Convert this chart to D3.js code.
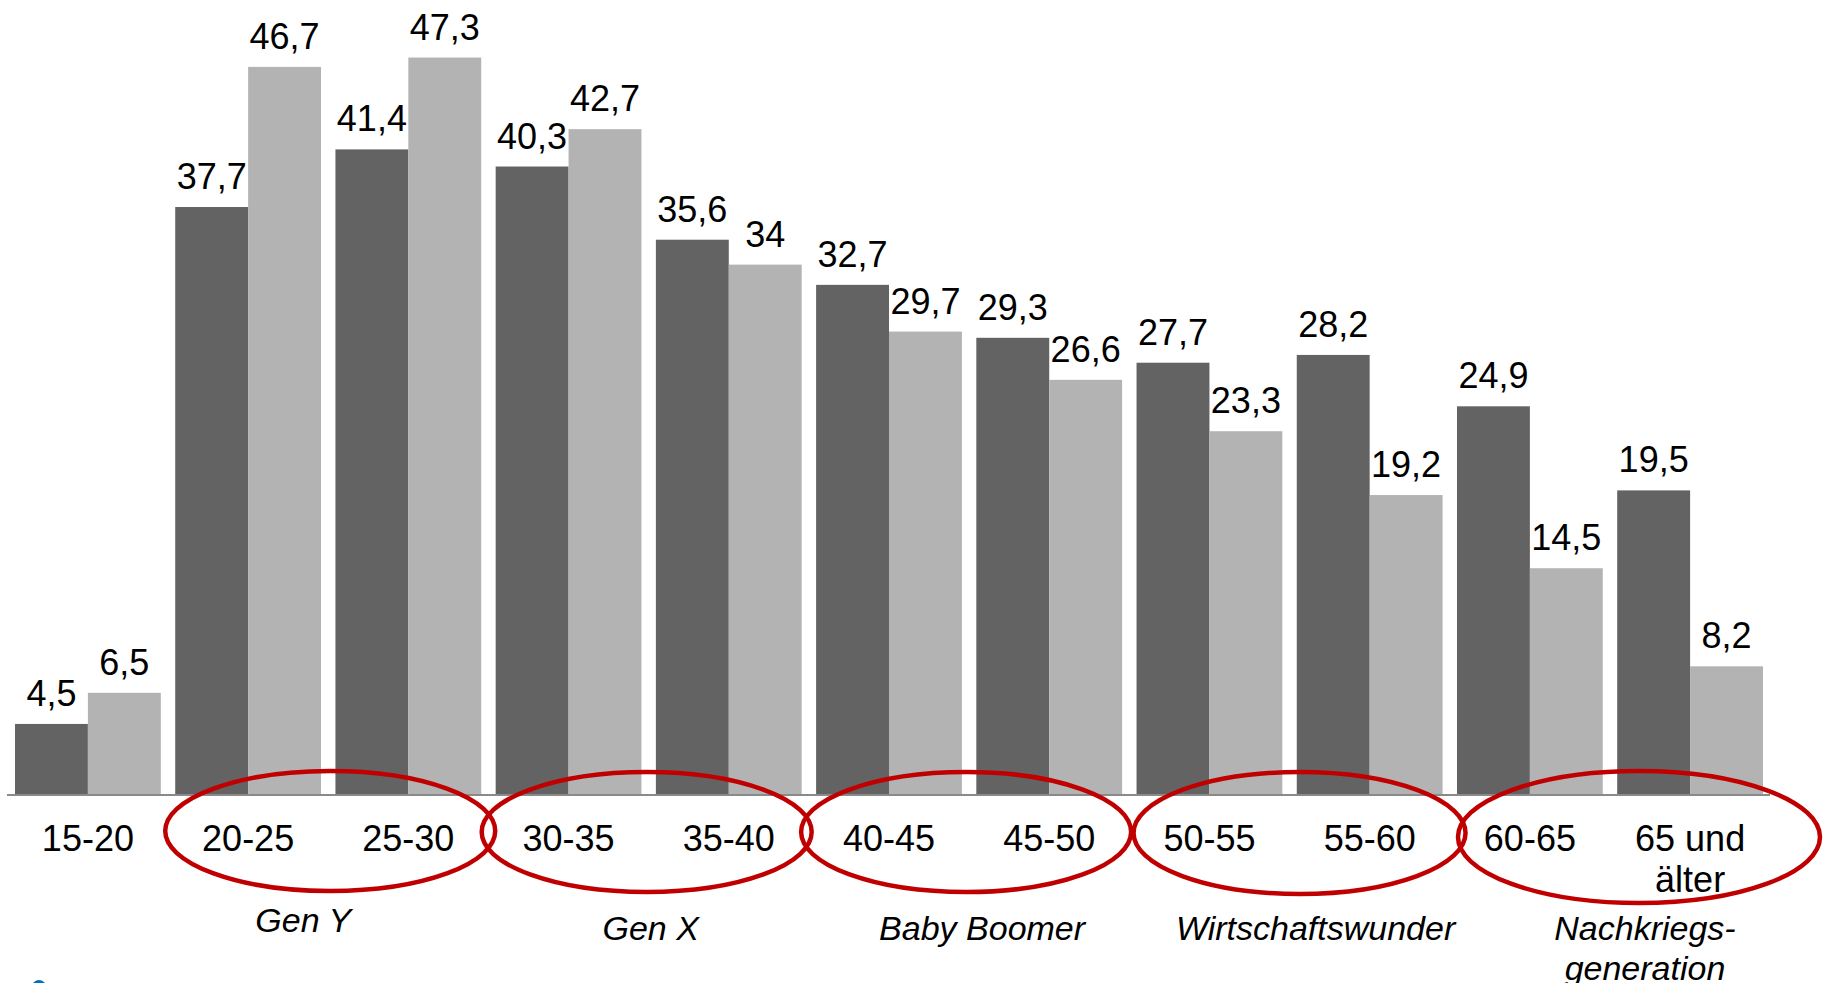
<!DOCTYPE html>
<html lang="de">
<head>
<meta charset="utf-8">
<script src="https://cdn.jsdelivr.net/npm/d3@7"></script>
<style>
  html, body { margin: 0; padding: 0; background: #ffffff; }
  svg { display: block; font-family: "Liberation Sans", Arial, sans-serif; }
</style>
</head>
<body>
<svg id="chart" width="1825" height="983"></svg>
<script>
// Age groups along the x axis
const ageGroups = ["15-20", "20-25", "25-30", "30-35", "35-40", "40-45", "45-50", "50-55", "55-60", "60-65", "65 und älter"];
// Two series per age group (dark and light bars)
const seriesDark  = [4.5, 37.7, 41.4, 40.3, 35.6, 32.7, 29.3, 27.7, 28.2, 24.9, 19.5];
const seriesLight = [6.5, 46.7, 47.3, 42.7, 34, 29.7, 26.6, 23.3, 19.2, 14.5, 8.2];
// Generation names and the two age groups each one covers
const generationNames = ["Gen Y", "Gen X", "Baby Boomer", "Wirtschaftswunder", "Nachkriegs-\ngeneration"];
const generationSpans = [["20-25", "25-30"], ["30-35", "35-40"], ["40-45", "45-50"], ["50-55", "55-60"], ["60-65", "65 und älter"]];

// Layout tweaks for the ring and caption of each generation
const ringLayout = [
  { dx: 2,   cy: 831, rx: 165, ry: 60, textDx: -25, textY: 932 },
  { dx: -2,  cy: 832, rx: 165, ry: 60, textDx: 2,   textY: 940 },
  { dx: -3,  cy: 832, rx: 165, ry: 60, textDx: 13,  textY: 940 },
  { dx: 10,  cy: 833, rx: 166, ry: 61, textDx: 26,  textY: 940 },
  { dx: 29,  cy: 837, rx: 181, ry: 66, textDx: 35,  textY: 940 }
];

const svg = d3.select("#chart");
const baseY = 794;

const x = d3.scaleBand().domain(ageGroups).range([15, 1763]).paddingInner(0.09).paddingOuter(0);
const xs = d3.scaleBand().domain(["dark", "light"]).range([0, x.bandwidth()]).padding(0);
const y = d3.scaleLinear().domain([0, 51]).range([baseY, baseY - 51 * 15.57]);

const fmt = v => String(v).replace(".", ",");

const rows = ageGroups.map((g, i) => ({ g, dark: seriesDark[i], light: seriesLight[i] }));
const colors = { dark: "#636363", light: "#b3b3b3" };

// Bars
const groups = svg.append("g").selectAll("g").data(rows).join("g")
  .attr("transform", d => `translate(${x(d.g)},0)`);

groups.selectAll("rect")
  .data(d => ["dark", "light"].map(k => ({ k, v: d[k] })))
  .join("rect")
  .attr("x", d => xs(d.k))
  .attr("width", xs.bandwidth())
  .attr("y", d => y(d.v))
  .attr("height", d => y(0) - y(d.v))
  .attr("fill", d => colors[d.k]);

// Value labels above the bars
groups.selectAll("text")
  .data(d => ["dark", "light"].map(k => ({ k, v: d[k] })))
  .join("text")
  .attr("x", d => xs(d.k) + xs.bandwidth() / 2)
  .attr("y", d => y(d.v) - 18)
  .attr("text-anchor", "middle")
  .attr("font-size", 36)
  .attr("fill", "#000")
  .text(d => fmt(d.v));

// Baseline
svg.append("line")
  .attr("x1", 7).attr("x2", 1770)
  .attr("y1", baseY + 1).attr("y2", baseY + 1)
  .attr("stroke", "#8a8a8a").attr("stroke-width", 2);

// Category labels (split long labels over two lines)
const catLabels = svg.append("g").selectAll("text").data(ageGroups).join("text")
  .attr("text-anchor", "middle")
  .attr("font-size", 36)
  .attr("fill", "#000")
  .attr("transform", d => `translate(${x(d) + x.bandwidth() / 2},851)`);
catLabels.each(function (d) {
  const lines = d === "65 und älter" ? ["65 und", "älter"] : [d];
  d3.select(this).selectAll("tspan").data(lines).join("tspan")
    .attr("x", 0).attr("y", (l, i) => i * 41).text(l => l);
});

// Generation rings and captions
const center = g => x(g) + x.bandwidth() / 2;
generationNames.forEach((name, i) => {
  const [a, b] = generationSpans[i];
  const mid = (center(a) + center(b)) / 2;
  const L = ringLayout[i];
  svg.append("ellipse")
    .attr("cx", mid + L.dx).attr("cy", L.cy)
    .attr("rx", L.rx).attr("ry", L.ry)
    .attr("fill", "none")
    .attr("stroke", "#c00000")
    .attr("stroke-width", 4.5);
  const t = svg.append("text")
    .attr("text-anchor", "middle")
    .attr("font-size", 34)
    .attr("font-style", "italic")
    .attr("fill", "#000")
    .attr("transform", `translate(${mid + L.textDx},${L.textY})`);
  t.selectAll("tspan").data(name.split("\n")).join("tspan")
    .attr("x", 0).attr("y", (l, j) => j * 40).text(l => l);
});

// Small blue marker at the lower left corner
svg.append("circle").attr("cx", 39).attr("cy", 987).attr("r", 7).attr("fill", "#0070c0");
</script>
</body>
</html>
